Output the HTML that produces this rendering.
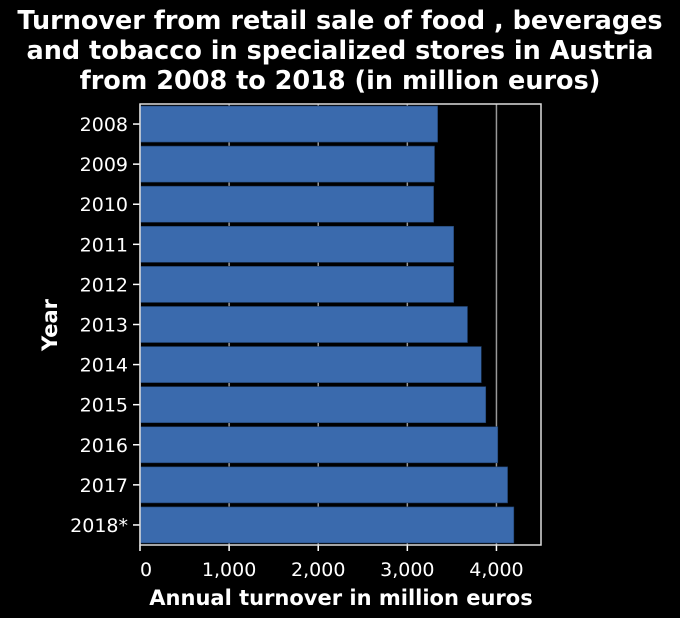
<!DOCTYPE html>
<html><head><meta charset="utf-8"><style>
body{margin:0;background:#000;}
svg{display:block;font-family:"DejaVu Sans","Liberation Sans",sans-serif;}
</style></head><body>
<svg id="c" width="680" height="618" viewBox="0 0 680 618">
<rect width="680" height="618" fill="#000"/>
<g fill="#fff" font-weight="bold" font-size="25.5" text-anchor="middle">
<text x="340" y="29">Turnover from retail sale of food , beverages</text>
<text x="340" y="59">and tobacco in specialized stores in Austria</text>
<text x="340" y="89">from 2008 to 2018 (in million euros)</text>
</g>
<g id="grid"></g><g id="bars"></g><g id="axes"></g>
<text x="341" y="605" fill="#fff" font-weight="bold" font-size="21" text-anchor="middle">Annual turnover in million euros</text>
<text transform="translate(57,325) rotate(-90)" fill="#fff" font-weight="bold" font-size="21" text-anchor="middle">Year</text>
</svg>
<script>
const categories=["2008","2009","2010","2011","2012","2013","2014","2015","2016","2017","2018*"];
const values=[3340,3305,3295,3520,3520,3675,3830,3880,4015,4125,4195];
const xTicks=[0,1000,2000,3000,4000];
const xTickLabels=["0","1,000","2,000","3,000","4,000"];
const NS="http://www.w3.org/2000/svg";
const L=140,R=541,T=104,B=545,XMAX=4500;
const xs=v=>L+v/XMAX*(R-L);
const band=(B-T)/categories.length;
const ys=i=>T+i*band;
function mk(t,a,p){const e=document.createElementNS(NS,t);for(const k in a)e.setAttribute(k,a[k]);p.appendChild(e);return e;}
const grid=document.getElementById('grid'),bars=document.getElementById('bars'),axes=document.getElementById('axes');
xTicks.forEach((v,i)=>{
 const g=mk('line',{x1:xs(v),x2:xs(v),y1:T,y2:B,stroke:'#999','stroke-width':1.5},grid);
 
 
 const t=mk('line',{x1:xs(v),x2:xs(v),y1:B,y2:B+6,stroke:'#fff','stroke-width':1.5},axes);
 
 
 const l=mk('text',{x:xs(v)+(i==0?6:0),y:B+31,fill:'#fff','font-size':19,'text-anchor':'middle'},axes);
 l.textContent=xTickLabels[i];
 
 
});
categories.forEach((c,i)=>{
 const b=mk('rect',{x:L,y:ys(i)+2,width:xs(values[i])-L,height:band-4,fill:'#3a6aad',stroke:'#1f3d66','stroke-width':0.6},bars);
 
 
 const cy=ys(i)+band/2;
 const t=mk('line',{x1:L-7,x2:L,y1:cy,y2:cy,stroke:'#fff','stroke-width':1.5},axes);
 
 
 const l=mk('text',{x:L-12,y:cy+7,fill:'#fff','font-size':19,'text-anchor':'end'},axes);
 l.textContent=c;
 
 
});
const f=mk('rect',{x:L,y:T,width:R-L,height:B-T,fill:'none',stroke:'#ddd','stroke-width':1.5},axes);


</script>
</body></html>
